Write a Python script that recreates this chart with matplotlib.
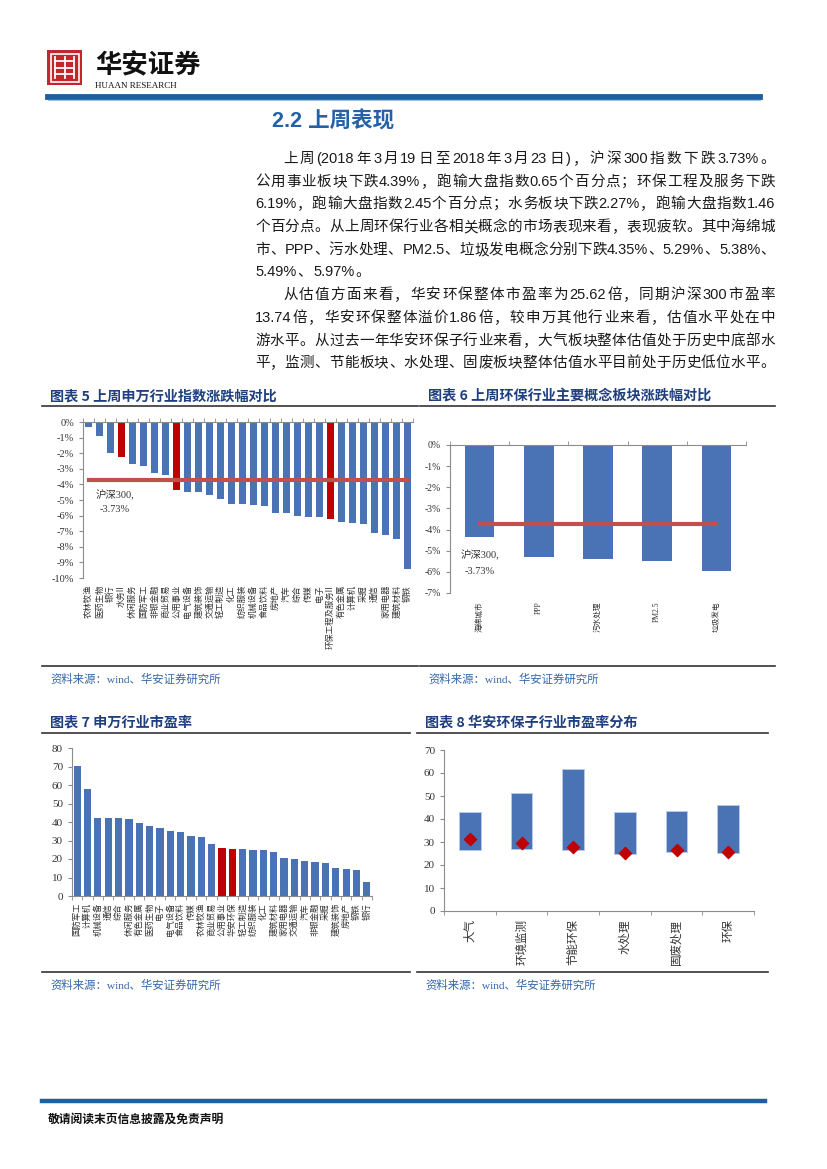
import re
import numpy as np
import matplotlib
matplotlib.use("Agg")
import matplotlib.pyplot as plt
from matplotlib.lines import Line2D
from matplotlib.patches import Rectangle
from matplotlib.font_manager import FontProperties

# ---- data -------------------------------------------------------------------
sw_names = ["农林牧渔", "医药生物", "银行", "水务II", "休闲服务", "国防军工", "非银金融",
            "商业贸易", "公用事业", "电气设备", "建筑装饰", "交通运输", "轻工制造", "化工",
            "纺织服装", "机械设备", "食品饮料", "房地产", "汽车", "综合", "传媒", "电子",
            "环保工程及服务II", "有色金属", "计算机", "采掘", "通信", "家用电器",
            "建筑材料", "钢铁"]
sw_chg = [-0.35, -0.92, -1.98, -2.27, -2.72, -2.83, -3.29, -3.37, -4.39, -4.49,
          -4.51, -4.66, -4.92, -5.24, -5.26, -5.30, -5.39, -5.82, -5.83, -6.01,
          -6.07, -6.11, -6.19, -6.41, -6.48, -6.54, -7.11, -7.22, -7.52, -9.41]
sw_red = ["水务II", "公用事业", "环保工程及服务II"]
hs300_chg = -3.73

concept_names = ["海绵城市", "PPP", "污水处理", "PM2.5", "垃圾发电"]
concept_chg = [-4.35, -5.29, -5.38, -5.49, -5.97]

pe_names = ["国防军工", "计算机", "机械设备", "通信", "综合", "休闲服务", "有色金属",
            "医药生物", "电子", "电气设备", "食品饮料", "传媒", "农林牧渔", "商业贸易",
            "公用事业", "华安环保", "轻工制造", "纺织服装", "化工", "建筑材料", "家用电器",
            "交通运输", "汽车", "非银金融", "采掘", "建筑装饰", "房地产", "钢铁", "银行"]
pe_vals = [70.5, 57.9, 42.4, 42.1, 41.9, 41.5, 39.2, 37.6, 37.0, 34.9, 34.7, 32.7,
           31.8, 27.9, 26.2, 25.6, 25.2, 24.8, 24.8, 23.7, 20.3, 19.8, 19.1, 18.2,
           17.6, 14.9, 14.7, 13.8, 7.7]
pe_red = ["公用事业", "华安环保"]

sub_names = ["大气", "环境监测", "节能环保", "水处理", "固废处理", "环保"]
sub_low = [26.5, 26.8, 26.7, 24.9, 25.8, 25.4]
sub_high = [43.2, 51.2, 61.7, 42.9, 43.6, 46.2]
sub_now = [31.4, 29.4, 28.0, 25.1, 26.4, 25.6]

# ---- style ------------------------------------------------------------------
BLUE = "#4a73b5"
RED = "#c00000"
LINE_RED = "#c0504d"
TITLE_C = "#1f3f7f"
SRC_C = "#3466a8"
SPINE = "#8c8c8c"
INK = "#1a1a1a"
CJK = ["Noto Sans CJK SC"]
SERIF = ["Liberation Serif", "Noto Sans CJK SC"]
SANS = ["Liberation Sans", "Noto Sans CJK SC"]

W, H = 827, 1169
fig = plt.figure(figsize=(W / 100, H / 100), dpi=100)


def ax_px(x0, y0, x1, y1):
    return fig.add_axes([x0 / W, 1 - y1 / H, (x1 - x0) / W, (y1 - y0) / H])


def txt(x, y, s, **kw):
    return fig.text(x / W, 1 - y / H, s, **kw)


def hline(x0, x1, y, color, lw):
    fig.add_artist(Line2D([x0 / W, x1 / W], [1 - y / H, 1 - y / H], color=color, lw=lw))


# ---- header -----------------------------------------------------------------
lg = ax_px(47, 50, 82, 85)
lg.set_xlim(0, 10); lg.set_ylim(0, 10); lg.axis("off")
lg.add_patch(Rectangle((0, 0), 10, 10, facecolor="#c4262e", edgecolor="none"))
lg.add_patch(Rectangle((1, 1), 8, 8, facecolor="none", edgecolor="white", lw=1.2))
for yy in (3.2, 5.0, 6.8):
    lg.plot([2.2, 7.8], [yy, yy], color="white", lw=1.3)
for xx in (2.2, 5.0, 7.8):
    lg.plot([xx, xx], [2.0, 8.0], color="white", lw=1.3)
txt(95, 66, "华安证券", fontsize=19, fontweight="bold", family=CJK, color="#111111",
    va="center", ha="left")
txt(95, 86, "HUAAN RESEARCH", fontsize=6.5, family=["Liberation Serif"], color="#111111",
    va="center", ha="left")
hline(48, 760, 96.5, "#1f5f9f", 4.2)
hline(48, 760, 99.5, "#9cc3e6", 0.8)

# ---- section text -----------------------------------------------------------
txt(272, 122, "2.2 上周表现", fontsize=15.5, fontweight="bold", family=SANS,
    color="#2461a6", va="center", ha="left")

body_fp = FontProperties(family=SANS, size=10.5)
renderer = fig.canvas.get_renderer()


def justify(line, x0, x1, y, last=False):
    # spread the tokens of one line so it fills x0..x1, like the justified source text
    toks = re.findall(r"[A-Za-z0-9.%()]+|\S", line)
    ws = [renderer.get_text_width_height_descent(t, body_fp, ismath=False)[0] for t in toks]
    gap = 1.2 if last else (x1 - x0 - sum(ws)) / (len(toks) - 1)
    x = x0
    for t, w in zip(toks, ws):
        txt(x, y + 5, t, fontproperties=body_fp, color=INK, va="baseline", ha="left")
        x += w + gap


para1 = ["上周(2018 年 3 月 19 日至 2018 年 3 月 23 日)，沪深 300 指数下跌3.73%。",
         "公用事业板块下跌4.39%，跑输大盘指数 0.65 个百分点；环保工程及服务下跌",
         "6.19%，跑输大盘指数 2.45 个百分点；水务板块下跌2.27%，跑输大盘指数 1.46",
         "个百分点。从上周环保行业各相关概念的市场表现来看，表现疲软。其中海绵城",
         "市、PPP、污水处理、PM2.5、垃圾发电概念分别下跌4.35%、5.29%、5.38%、",
         "5.49%、5.97%。"]
para2 = ["从估值方面来看，华安环保整体市盈率为25.62 倍，同期沪深 300 市盈率",
         "13.74 倍，华安环保整体溢价 1.86 倍，较申万其他行业来看，估值水平处在中",
         "游水平。从过去一年华安环保子行业来看，大气板块整体估值处于历史中底部水",
         "平，监测、节能板块、水处理、固废板块整体估值水平目前处于历史低位水平。"]
ys1 = [158, 181, 203, 226, 249, 271]
ys2 = [294, 317, 340, 362]
for i, (s, y) in enumerate(zip(para1, ys1)):
    justify(s, 283 if i == 0 else 255, 775, y, last=(i == len(para1) - 1))
for i, (s, y) in enumerate(zip(para2, ys2)):
    justify(s, 283 if i == 0 else 255, 775, y)


# ---- chart frames -----------------------------------------------------------
def frame(x0, x1, ytitle, yline, ybottom, title):
    txt(x0 + 8, ytitle, title, fontsize=10.2, fontweight="bold", family=CJK,
        color=TITLE_C, va="center", ha="left")
    hline(x0, x1, yline, "#333333", 1.2)
    hline(x0, x1, ybottom, "#333333", 1.2)
    txt(x0 + 8, ybottom + 13, "资料来源：wind、华安证券研究所", fontsize=8.2,
        family=SERIF, color=SRC_C, va="center", ha="left")


frame(42, 418, 396, 406, 666, "图表 5 上周申万行业指数涨跌幅对比")
frame(420, 775, 396, 406, 666, "图表 6 上周环保行业主要概念板块涨跌幅对比")
frame(42, 410, 722, 733, 972, "图表 7 申万行业市盈率")
frame(417, 768, 722, 733, 972, "图表 8 华安环保子行业市盈率分布")


def style_axes(ax, top_axis):
    for side in ("right", "top", "bottom"):
        ax.spines[side].set_visible(False)
    ax.spines["left"].set_color(SPINE)
    edge = "top" if top_axis else "bottom"
    ax.spines[edge].set_visible(True)
    ax.spines[edge].set_color(SPINE)
    ax.tick_params(axis="y", colors=SPINE, length=3, labelcolor="#333333")
    ax.tick_params(axis="x", which="major", length=0, labelcolor="#333333")
    ax.tick_params(axis="x", which="minor", length=3, color=SPINE,
                   top=top_axis, bottom=not top_axis)
    ax.set_facecolor("none")
    for lab in ax.get_yticklabels():
        lab.set_family(SERIF)


# ---- chart 5 ----------------------------------------------------------------
ax5 = ax_px(83, 422, 413, 578)
x5 = np.arange(len(sw_names))
ax5.bar(x5, sw_chg, width=0.55, color=[RED if n in sw_red else BLUE for n in sw_names],
        zorder=2)
ax5.plot([x5[0], x5[-1]], [hs300_chg, hs300_chg], color=LINE_RED, lw=3, zorder=3)
ax5.set_xlim(-0.5, len(sw_names) - 0.5)
ax5.set_ylim(-10, 0)
ax5.set_yticks(np.arange(-10, 1, 1))
ax5.set_yticklabels([f"{v}%" for v in range(-10, 1)], fontsize=7.5)
ax5.set_xticks(x5)
ax5.set_xticklabels(sw_names, rotation=90, fontsize=6, family=CJK)
ax5.set_xticks(np.arange(-0.5, len(sw_names), 1), minor=True)
style_axes(ax5, True)
ax5.tick_params(axis="x", which="major", pad=5)
txt(96, 495, "沪深300,", fontsize=7.5, family=SERIF, color="#333333", va="center")
txt(100, 510, "-3.73%", fontsize=7.5, family=SERIF, color="#333333", va="center")

# ---- chart 6 ----------------------------------------------------------------
ax6 = ax_px(450, 445, 746, 593)
x6 = np.arange(len(concept_names))
ax6.bar(x6, concept_chg, width=0.5, color=BLUE, zorder=2)
ax6.plot([x6[0], x6[-1]], [hs300_chg, hs300_chg], color=LINE_RED, lw=3, zorder=3)
ax6.set_xlim(-0.5, len(concept_names) - 0.5)
ax6.set_ylim(-7, 0)
ax6.set_yticks(np.arange(-7, 1, 1))
ax6.set_yticklabels([f"{v}%" for v in range(-7, 1)], fontsize=7)
ax6.set_xticks(x6)
ax6.set_xticklabels(concept_names, rotation=90, fontsize=5.5, family=SERIF)
ax6.set_xticks(np.arange(-0.5, len(concept_names), 1), minor=True)
style_axes(ax6, True)
ax6.tick_params(axis="x", which="major", pad=6)
txt(461, 555, "沪深300,", fontsize=7.5, family=SERIF, color="#333333", va="center")
txt(465, 571, "-3.73%", fontsize=7.5, family=SERIF, color="#333333", va="center")

# ---- chart 7 ----------------------------------------------------------------
ax7 = ax_px(72, 748, 372, 896)
x7 = np.arange(len(pe_names))
ax7.bar(x7, pe_vals, width=0.7, color=[RED if n in pe_red else BLUE for n in pe_names],
        zorder=2)
ax7.set_xlim(-0.5, len(pe_names) - 0.5)
ax7.set_ylim(0, 80)
ax7.set_yticks(np.arange(0, 81, 10))
ax7.set_yticklabels([str(v) for v in range(0, 81, 10)], fontsize=8)
ax7.set_xticks(x7)
ax7.set_xticklabels(pe_names, rotation=90, fontsize=6, family=CJK)
ax7.set_xticks(np.arange(-0.5, len(pe_names), 1), minor=True)
style_axes(ax7, False)
ax7.tick_params(axis="x", which="major", pad=5)

# ---- chart 8 ----------------------------------------------------------------
ax8 = ax_px(444, 750, 754, 911)
x8 = np.arange(len(sub_names))
ax8.bar(x8, np.array(sub_high) - np.array(sub_low), bottom=sub_low, width=0.42,
        color=BLUE, edgecolor="#b9cbe6", lw=0.6, zorder=2)
ax8.scatter(x8, sub_now, marker="D", s=38, color=RED, zorder=3)
ax8.set_xlim(-0.5, len(sub_names) - 0.5)
ax8.set_ylim(0, 70)
ax8.set_yticks(np.arange(0, 71, 10))
ax8.set_yticklabels([str(v) for v in range(0, 71, 10)], fontsize=8)
ax8.set_xticks(x8)
ax8.set_xticklabels(sub_names, rotation=90, fontsize=8.3, family=CJK)
ax8.set_xticks(np.arange(-0.5, len(sub_names), 1), minor=True)
style_axes(ax8, False)
ax8.tick_params(axis="x", which="major", pad=6)

# ---- footer -----------------------------------------------------------------
hline(42, 765, 1101, "#1f5f9f", 3.2)
txt(48, 1119, "敬请阅读末页信息披露及免责声明", fontsize=8.5, fontweight="bold",
    family=CJK, color="#111111", va="center", ha="left")

fig.savefig("out.png", dpi=100)
